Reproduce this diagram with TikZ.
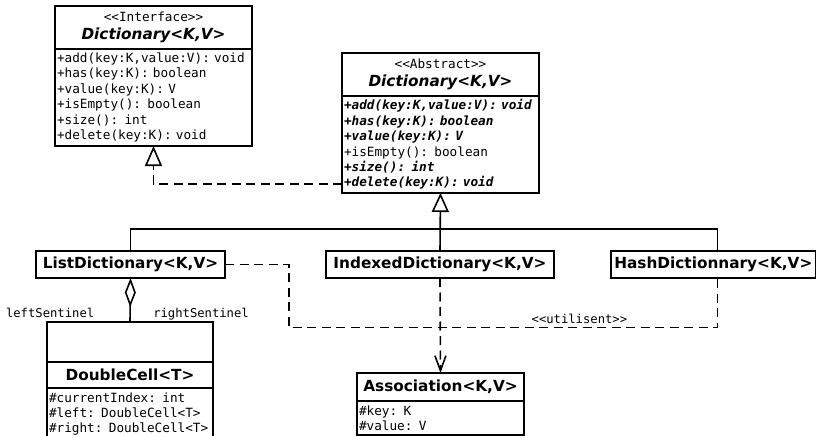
\documentclass[tikz,border=0pt]{standalone}
\usepackage{fontspec}
\setmainfont{DejaVu Sans}
\setmonofont{DejaVu Sans Mono}
\usetikzlibrary{arrows.meta, positioning}

\newcommand{\umlmono}{\fontsize{12.7}{15.4}\ttfamily}
\newcommand{\umlsmall}{\fontsize{12.2}{14}\ttfamily}
\newcommand{\umltitle}{\fontsize{15.3}{18}\selectfont\rmfamily\bfseries}
\newcommand{\absop}[1]{{\bfseries\itshape #1}}

\begin{document}
\begin{tikzpicture}[x=1pt, y=-1pt, line width=1.6pt,
    head/.style={rectangle, draw, outer sep=0pt, inner xsep=2pt, inner ysep=0pt, align=center, font=\umlmono},
    body/.style={rectangle, draw, outer sep=0pt, inner xsep=2pt, inner ysep=0pt, align=left, font=\umlmono},
    cls/.style={rectangle, draw, outer sep=0pt, minimum height=27pt, font=\umltitle},
    uses/.style={dash pattern=on 9pt off 5.5pt}]
  \useasboundingbox (0,0) rectangle (820,436);

  % interface and abstract class
  \node[head, anchor=north west, text width=193pt, minimum height=43pt] (iface) at (55,6) {<<Interface>>\\[2pt]{\umltitle\itshape Dictionary<K,V>}};
  \node[body, text width=193pt, minimum height=97pt, below=0pt of iface] (ifacebody) {+add(key:K,value:V): void\\+has(key:K): boolean\\+value(key:K): V\\+isEmpty(): boolean\\+size(): int\\+delete(key:K): void};

  \node[head, anchor=north west, text width=193pt, minimum height=43pt] (abstr) at (342,53) {<<Abstract>>\\[2pt]{\umltitle\itshape Dictionary<K,V>}};
  \node[body, text width=193pt, minimum height=97pt, below=0pt of abstr] (abstrbody) {\absop{+add(key:K,value:V): void}\\\absop{+has(key:K): boolean}\\\absop{+value(key:K): V}\\+isEmpty(): boolean\\\absop{+size(): int}\\\absop{+delete(key:K): void}};

  % implementations
  \node[cls, anchor=north west, minimum width=189pt] (listd) at (36,251) {ListDictionary<K,V>};
  \node[cls, anchor=north west, minimum width=228pt] (indexd) at (326,251) {IndexedDictionary<K,V>};
  \node[cls, anchor=north west, minimum width=204pt] (hashd) at (611,251) {HashDictionnary<K,V>};

  % cells
  \node[head, anchor=north west, text width=162pt, minimum height=40pt] (dcell) at (47,322) {};
  \node[head, text width=162pt, minimum height=26pt, below=0pt of dcell] (dcellhead) {{\umltitle DoubleCell<T>}};
  \node[body, text width=162pt, minimum height=52pt, below=0pt of dcellhead] (dcellbody) {\#currentIndex: int\\\#left: DoubleCell<T>\\\#right: DoubleCell<T>};

  \node[head, anchor=north west, text width=163pt, minimum height=28pt] (assoc) at (357,373) {{\umltitle Association<K,V>}};
  \node[body, text width=163pt, minimum height=34pt, below=0pt of assoc] (assocbody) {\#key: K\\\#value: V};

  % connectors
  \draw[uses, -{Triangle[open, length=20pt, width=17pt]}] ([yshift=9pt]abstrbody.south west) -| (ifacebody.south);
  \draw[-{Triangle[open, length=19pt, width=17pt]}] (indexd.north) -- (abstrbody.south);
  \draw (listd.north) -- ++(0,-22) -| ([xshift=4pt]hashd.north);
  \draw[{Diamond[open, length=29pt, width=11pt]}-] (listd.south) -- (dcell.north)
    node[pos=1, anchor=base east, inner sep=0pt, xshift=-35pt, yshift=5pt, font=\umlsmall] {leftSentinel}
    node[pos=1, anchor=base west, inner sep=0pt, xshift=22.5pt, yshift=5pt, font=\umlsmall] {rightSentinel};
  \draw[uses] (listd.east) -- ++(64,0) -- ++(0,63) -| ([xshift=4pt]hashd.south)
    node[pos=0.339, anchor=base, inner sep=0pt, yshift=4pt, font=\umlsmall] {<<utilisent>>};
  \draw[uses, -{Straight Barb[length=15pt, width=11pt]}] (indexd.south) -- (assoc.north);
\end{tikzpicture}
\end{document}
